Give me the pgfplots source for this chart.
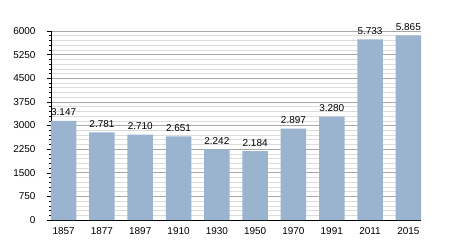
\documentclass[border=0pt]{standalone}
\usepackage{fontspec}
\setmainfont{Liberation Sans}
\usepackage{pgfplots}
\pgfplotsset{compat=1.18}
\definecolor{barblue}{HTML}{9AB3CF}
\definecolor{majgrid}{HTML}{A8A8A8}
\definecolor{mingrid}{HTML}{DCDCDC}
\begin{document}
\begin{tikzpicture}
\useasboundingbox (-51bp,-30bp) rectangle (399bp,220bp);
\begin{axis}[
  at={(0,0)}, anchor=south west,
  scale only axis,
  width=370bp, height=189bp,
  xmin=-0.33, xmax=9.33,
  ymin=0, ymax=6000,
  axis x line*=bottom, axis y line*=left,
  axis line style={black, line width=0.8pt, -},
  xtick={0,...,9},
  xticklabels={1857,1877,1897,1910,1930,1950,1970,1991,2011,2015},
  x tick style={draw=none},
  ytick={0,750,...,6000},
  minor y tick num=4,
  tick align=outside,
  major tick length=4bp,
  minor tick length=2bp,
  y tick style={black, line width=0.5pt},
  ymajorgrids, yminorgrids,
  major grid style={majgrid, line width=0.6pt},
  minor grid style={mingrid, line width=0.5pt},
  tick label style={font=\fontsize{10}{12}\selectfont},
  /pgf/number format/assume math mode=true,
  yticklabel style={/pgf/number format/1000 sep={}, xshift=-8bp},
  xticklabel style={yshift=0bp},
  ybar, bar width=25.5bp,
  bar shift=0pt,
  nodes near coords,
  every node near coord/.append style={font=\fontsize{10}{12}\selectfont, yshift=1.5bp,
     /pgf/number format/1000 sep={.}},
  clip=false,
]
\addplot[fill=barblue, draw=none] coordinates {
(0,3147) (1,2781) (2,2710) (3,2651) (4,2242) (5,2184) (6,2897) (7,3280) (8,5733) (9,5865)
};
\end{axis}
\end{tikzpicture}
\end{document}
